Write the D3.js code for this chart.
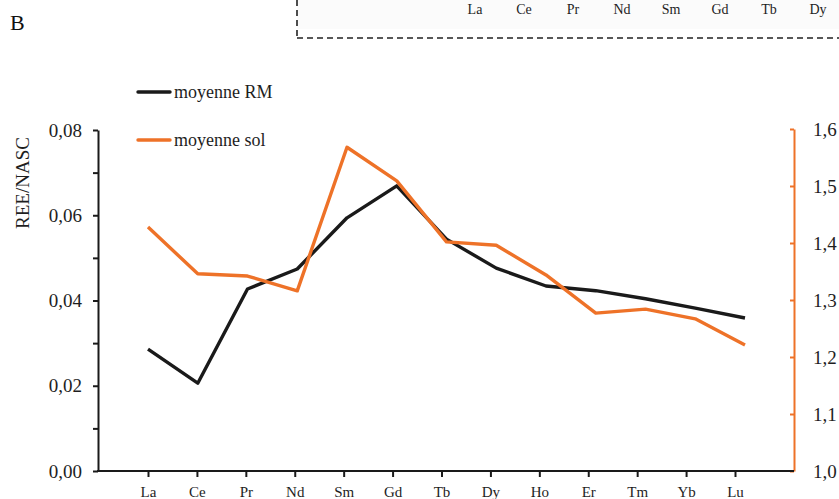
<!DOCTYPE html>
<html><head><meta charset="utf-8">
<script src="https://cdn.jsdelivr.net/npm/d3@7"></script>
<style>
html,body{margin:0;padding:0;background:#fff;}
</style></head>
<body><svg id="c" width="839" height="499"></svg>
<script>
const elements = ["La","Ce","Pr","Nd","Sm","Gd","Tb","Dy","Ho","Er","Tm","Yb","Lu"];
const moyenneRM  = [0.0286,0.0206,0.0427,0.0474,0.0594,0.0669,0.0544,0.0476,0.0434,0.0423,0.0404,0.0382,0.0359];
const moyenneSol = [1.428,1.346,1.342,1.316,1.568,1.509,1.402,1.396,1.344,1.277,1.284,1.267,1.221];
const leftTicks  = [0,0.01,0.02,0.03,0.04,0.05,0.06,0.07,0.08];
const rightTicks = [1.0,1.1,1.2,1.3,1.4,1.5,1.6];
const topLabels  = ["La","Ce","Pr","Nd","Sm","Gd","Tb","Dy"];

const FONT = "'Liberation Serif'";
const svg = d3.select("#c");
const orange = "#EE7228", black = "#1a1a1a", textCol = "#1e1e1e";
const plotL = 98, plotR = 794, plotB = 471, plotT = 130;

const xData = d3.scalePoint().domain(elements).range([148, 745]);
const xAxisS = d3.scalePoint().domain(elements).range([148, 735]);
const yL = d3.scaleLinear().domain([0, 0.08]).range([plotB, plotT]);
const yR = d3.scaleLinear().domain([1.0, 1.6]).range([plotB, plotT - 1]);
const fmt = d => d3.format(".2f")(d).replace(".", ",");
const fmtR = d => d3.format(".1f")(d).replace(".", ",");

// top fragment of previous panel
const xTop = d3.scalePoint().domain(topLabels).range([475, 818]);
svg.append("rect").attr("x", 297).attr("y", 0).attr("width", 542).attr("height", 29).attr("fill", "#fbfbfb");
svg.append("line").attr("x1", 297).attr("x2", 297).attr("y1", 0).attr("y2", 38)
  .attr("stroke", "#222").attr("stroke-width", 1.6).attr("stroke-dasharray", "6,4");
svg.append("line").attr("x1", 297).attr("x2", 839).attr("y1", 38).attr("y2", 38)
  .attr("stroke", "#222").attr("stroke-width", 1.6).attr("stroke-dasharray", "6,4");
svg.append("g").selectAll("text").data(topLabels).join("text")
  .attr("x", d => xTop(d)).attr("y", 14).attr("text-anchor", "middle")
  .attr("font-size", 14).attr("fill", textCol).style("font-family", FONT).text(d => d);

svg.append("text").attr("x", 10).attr("y", 30).attr("font-size", 22).attr("fill", "#111")
  .style("font-family", FONT).text("B");

// left axis
const gL = svg.append("g").attr("transform", `translate(${plotL},0)`)
  .call(d3.axisLeft(yL).tickValues(leftTicks).tickSize(5).tickSizeOuter(0)
    .tickFormat(d => (Math.round(d*100) % 2 === 0) ? fmt(d) : ""));
gL.select(".domain").attr("stroke", black).attr("stroke-width", 2);
gL.selectAll(".tick line").attr("stroke", black).attr("stroke-width", 2);
gL.selectAll(".tick text").attr("font-size", 19).attr("fill", textCol).attr("x", -16)
  .style("font-family", FONT);

// right axis
const gR = svg.append("g").attr("transform", `translate(${plotR},0)`)
  .call(d3.axisRight(yR).tickValues(rightTicks).tickSize(-4).tickSizeOuter(0).tickFormat(fmtR));
gR.select(".domain").attr("stroke", orange).attr("stroke-width", 2);
gR.selectAll(".tick line").attr("stroke", orange).attr("stroke-width", 2);
gR.selectAll(".tick text").attr("font-size", 19).attr("fill", textCol).attr("x", 19)
  .style("font-family", FONT);

// bottom axis
svg.append("line").attr("x1", plotL - 1).attr("x2", plotR).attr("y1", plotB).attr("y2", plotB)
  .attr("stroke", black).attr("stroke-width", 2);
const gB = svg.append("g").attr("transform", `translate(0,${plotB})`)
  .call(d3.axisBottom(xAxisS).tickSize(6).tickSizeOuter(0));
gB.select(".domain").remove();
gB.selectAll(".tick line").attr("stroke", black).attr("stroke-width", 2);
gB.selectAll(".tick text").attr("font-size", 15).attr("fill", textCol).attr("y", 15)
  .style("font-family", FONT);

// y label
svg.append("text").attr("transform", "translate(29,183) rotate(-90)")
  .attr("text-anchor", "middle").attr("font-size", 19).attr("fill", textCol)
  .style("font-family", FONT).text("REE/NASC");

// lines
const lineL = d3.line().x((d, i) => xData(elements[i])).y(d => yL(d));
const lineR = d3.line().x((d, i) => xData(elements[i])).y(d => yR(d));
svg.append("path").datum(moyenneRM).attr("d", lineL).attr("fill", "none")
  .attr("stroke", black).attr("stroke-width", 3.4).attr("stroke-linejoin", "round");
svg.append("path").datum(moyenneSol).attr("d", lineR).attr("fill", "none")
  .attr("stroke", orange).attr("stroke-width", 3.4).attr("stroke-linejoin", "round");

// legend
const legend = [{name: "moyenne RM", color: black, y: 92}, {name: "moyenne sol", color: orange, y: 140}];
const lg = svg.append("g");
legend.forEach(l => {
  lg.append("line").attr("x1", 138).attr("x2", 170).attr("y1", l.y).attr("y2", l.y)
    .attr("stroke", l.color).attr("stroke-width", 3.4).attr("stroke-linecap", "round");
  lg.append("text").attr("x", 174).attr("y", l.y + 6).attr("font-size", 18).attr("fill", textCol)
    .style("font-family", FONT).text(l.name);
});
</script></body></html>
